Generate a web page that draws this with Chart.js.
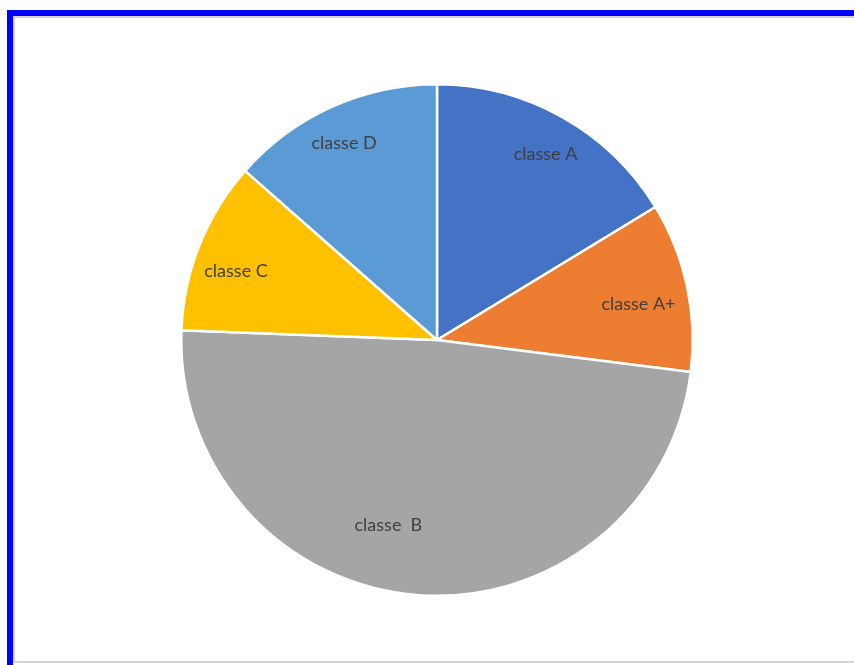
<!DOCTYPE html>
<html>
<head>
<meta charset="utf-8">
<script src="https://cdn.jsdelivr.net/npm/chart.js@4/dist/chart.umd.min.js"></script>
<style>
  html, body { margin: 0; padding: 0; background: #ffffff; }
  #wrap { position: relative; width: 854px; height: 665px; overflow: hidden; background: #ffffff; }
  #frame { position: absolute; left: 7px; top: 10px; width: 900px; height: 700px;
           border-left: 6px solid #0000ff; border-top: 6px solid #0000ff; box-sizing: border-box; }
  #inner { position: absolute; left: 13px; top: 16px; width: 900px; height: 647px;
           border-left: 2px solid #d4d4d4; border-top: 2px solid #d4d4d4; border-bottom: 2px solid #d4d4d4; box-sizing: border-box; }
  #c { position: absolute; left: 0; top: 0; }
</style>
</head>
<body>
<div id="wrap">
  <div id="frame"></div>
  <div id="inner"></div>
  <canvas id="c" width="854" height="665"></canvas>
</div>
<script>
const categories = ["classe A", "classe A+", "classe  B", "classe C", "classe D"];
const shares = [16.3, 10.7, 48.6, 10.9, 13.5];
const sliceColors = ["#4472C4", "#ED7D31", "#A5A5A5", "#FFC000", "#5B9BD5"];

// label placement (fraction of radius, angular shift in degrees)
const labelRadius = [0.84, 0.80, 0.75, 0.83, 0.85];
const labelShift = [1, 2, 10, -3, -1];

const sliceLabels = {
  id: 'sliceLabels',
  afterDatasetsDraw(chart) {
    const ctx = chart.ctx;
    const meta = chart.getDatasetMeta(0);
    ctx.save();
    ctx.font = '18px Lato, "Open Sans", sans-serif';
    ctx.fillStyle = '#404040';
    ctx.textAlign = 'center';
    ctx.textBaseline = 'middle';
    meta.data.forEach((arc, i) => {
      const p = arc.getProps(['x', 'y', 'startAngle', 'endAngle', 'outerRadius'], true);
      const mid = (p.startAngle + p.endAngle) / 2 + labelShift[i] * Math.PI / 180;
      const r = p.outerRadius * labelRadius[i];
      ctx.fillText(chart.data.labels[i], p.x + Math.cos(mid) * r, p.y + Math.sin(mid) * r);
    });
    ctx.restore();
  }
};

new Chart(document.getElementById('c'), {
  type: 'pie',
  data: {
    labels: categories,
    datasets: [{
      data: shares,
      backgroundColor: sliceColors,
      borderColor: '#ffffff',
      borderWidth: 2.5
    }]
  },
  options: {
    responsive: false,
    animation: false,
    layout: { padding: { left: 180, right: 160, top: 83, bottom: 68 } },
    plugins: { legend: { display: false }, tooltip: { enabled: false } }
  },
  plugins: [sliceLabels]
});
</script>
</body>
</html>
